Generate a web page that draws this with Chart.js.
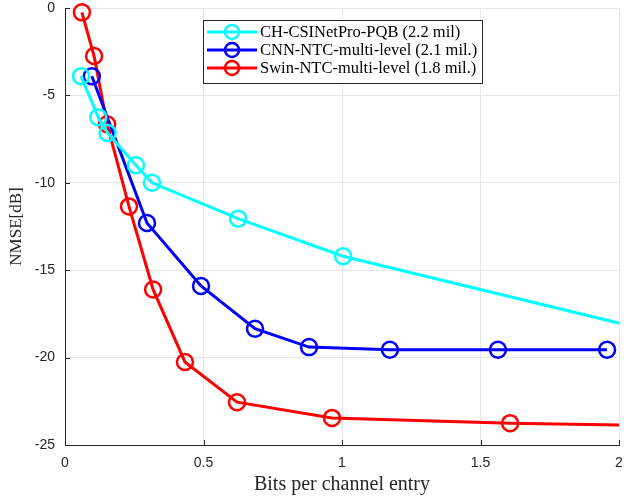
<!DOCTYPE html>
<html>
<head>
<meta charset="utf-8">
<script src="https://cdn.jsdelivr.net/npm/chart.js@4.4.1/dist/chart.umd.min.js"></script>
<style>
  html, body { margin: 0; padding: 0; background: #fff; }
  #wrap { width: 624px; height: 502px; }
</style>
</head>
<body>
<div id="wrap"><canvas id="nmseChart"></canvas></div>
<script>
// * data per model (x = bits per channel entry, y = NMSE in dB)
const seriesNames = [
  "CH-CSINetPro-PQB (2.2 mil)",
  "CNN-NTC-multi-level (2.1 mil.)",
  "Swin-NTC-multi-level (1.8 mil.)",
];
const seriesColors = ["#00FFFF", "#0000FF", "#FF0000"];

const cyanX = [0.058, 0.12, 0.154, 0.256, 0.314, 0.625, 1.004, 2.5];
const cyanY = [-3.9, -6.25, -7.15, -9.0, -10.0, -12.05, -14.2, -19.95];

const blueX = [0.097, 0.296, 0.491, 0.686, 0.881, 1.173, 1.563, 1.957];
const blueY = [-3.9, -12.3, -15.9, -18.35, -19.4, -19.55, -19.55, -19.55];

const redX = [0.061, 0.105, 0.152, 0.231, 0.318, 0.433, 0.621, 0.964, 1.607, 2.5];
const redY = [-0.25, -2.75, -6.65, -11.35, -16.1, -20.25, -22.55, -23.45, -23.75, -23.98];

const xTicks = [0, 0.5, 1, 1.5, 2];
const yTicks = [-25, -20, -15, -10, -5, 0];

// ? gabung jadi titik {x, y}
function toPoints(xs, ys) {
  return xs.map((x, i) => ({ x: x, y: ys[i] }));
}
const allPoints = [toPoints(cyanX, cyanY), toPoints(blueX, blueY), toPoints(redX, redY)];

const datasets = allPoints.map((pts, i) => ({
  label: seriesNames[i],
  data: pts,
  borderColor: seriesColors[i],
  backgroundColor: "rgba(0,0,0,0)",
  borderWidth: 3,
  pointRadius: 8,
  pointBorderWidth: 2.5,
  pointHoverRadius: 8,
  pointBackgroundColor: "rgba(0,0,0,0)",
  pointBorderColor: seriesColors[i],
  tension: 0,
  showLine: true,
  clip: { left: 12, top: 12, right: 0, bottom: 12 },
}));

// * legend di dalam area plot + tick ke dalam
const matlabBits = {
  id: "matlabBits",
  afterDraw(chart) {
    const ctx = chart.ctx;
    const area = chart.chartArea;
    const xs = chart.scales.x;
    const ys = chart.scales.y;
    ctx.save();
    // inward ticks
    ctx.strokeStyle = "#262626";
    ctx.lineWidth = 1;
    ctx.beginPath();
    xTicks.forEach((t) => {
      const px = Math.round(xs.getPixelForValue(t)) + 0.5;
      ctx.moveTo(px, area.bottom);
      ctx.lineTo(px, area.bottom - 5);
    });
    yTicks.forEach((t) => {
      const py = Math.round(ys.getPixelForValue(t)) + 0.5;
      ctx.moveTo(area.left, py);
      ctx.lineTo(area.left + 5, py);
    });
    ctx.stroke();

    // legend box
    const bx = 203.5, by = 20.5, bw = 279, bh = 63;
    ctx.fillStyle = "#ffffff";
    ctx.fillRect(bx, by, bw, bh);
    ctx.strokeStyle = "#262626";
    ctx.lineWidth = 1;
    ctx.strokeRect(bx, by, bw, bh);
    const rows = [32, 50, 68];
    ctx.font = "16.5px 'Liberation Serif', serif";
    ctx.textBaseline = "middle";
    seriesNames.forEach((name, i) => {
      const y = rows[i];
      ctx.strokeStyle = seriesColors[i];
      ctx.lineWidth = 3;
      ctx.beginPath();
      ctx.moveTo(207, y);
      ctx.lineTo(257, y);
      ctx.stroke();
      ctx.lineWidth = 2.5;
      ctx.beginPath();
      ctx.arc(232, y, 7, 0, Math.PI * 2);
      ctx.stroke();
      ctx.fillStyle = "#000000";
      ctx.fillText(name, 260, y + 1);
    });
    ctx.restore();
  },
};

const nmseChart = new Chart(document.getElementById("nmseChart").getContext("2d"), {
  type: "scatter",
  data: { datasets: datasets },
  options: {
    responsive: true,
    maintainAspectRatio: false,
    animation: false,
    events: [],
    layout: { autoPadding: false, padding: { top: 8, right: 5, left: 0, bottom: 0 } },
    plugins: {
      legend: { display: false },
      tooltip: { enabled: false },
    },
    scales: {
      x: {
        type: "linear",
        min: 0,
        max: 2,
        afterBuildTicks: (s) => { s.ticks = xTicks.map((v) => ({ value: v })); },
        afterFit: (s) => { s.height = 57; s.paddingLeft = 0; s.paddingRight = 0; },
        ticks: {
          color: "#262626",
          font: { family: "'Liberation Sans', Arial, sans-serif", size: 14 },
          padding: 10,
          maxRotation: 0,
          callback: (v) => String(v),
        },
        grid: { color: "#e6e6e6", drawTicks: false, lineWidth: 1 },
        border: { color: "#262626", width: 1 },
        title: {
          display: true,
          text: "Bits per channel entry",
          color: "#262626",
          font: { family: "'Liberation Serif', serif", size: 20 },
          padding: { top: 0, bottom: 5 },
        },
      },
      y: {
        type: "linear",
        min: -25,
        max: 0,
        afterBuildTicks: (s) => { s.ticks = yTicks.map((v) => ({ value: v })); },
        afterFit: (s) => { s.width = 65; s.paddingTop = 0; s.paddingBottom = 0; },
        ticks: {
          color: "#262626",
          font: { family: "'Liberation Sans', Arial, sans-serif", size: 14 },
          padding: 10,
          callback: (v) => String(v),
        },
        grid: { color: "#e6e6e6", drawTicks: false, lineWidth: 1 },
        border: { color: "#262626", width: 1 },
        title: {
          display: true,
          text: "NMSE[dB]",
          color: "#262626",
          font: { family: "'Liberation Serif', serif", size: 17 },
          padding: { top: 6, bottom: 0 },
        },
      },
    },
  },
  plugins: [matlabBits],
});
</script>
</body>
</html>
